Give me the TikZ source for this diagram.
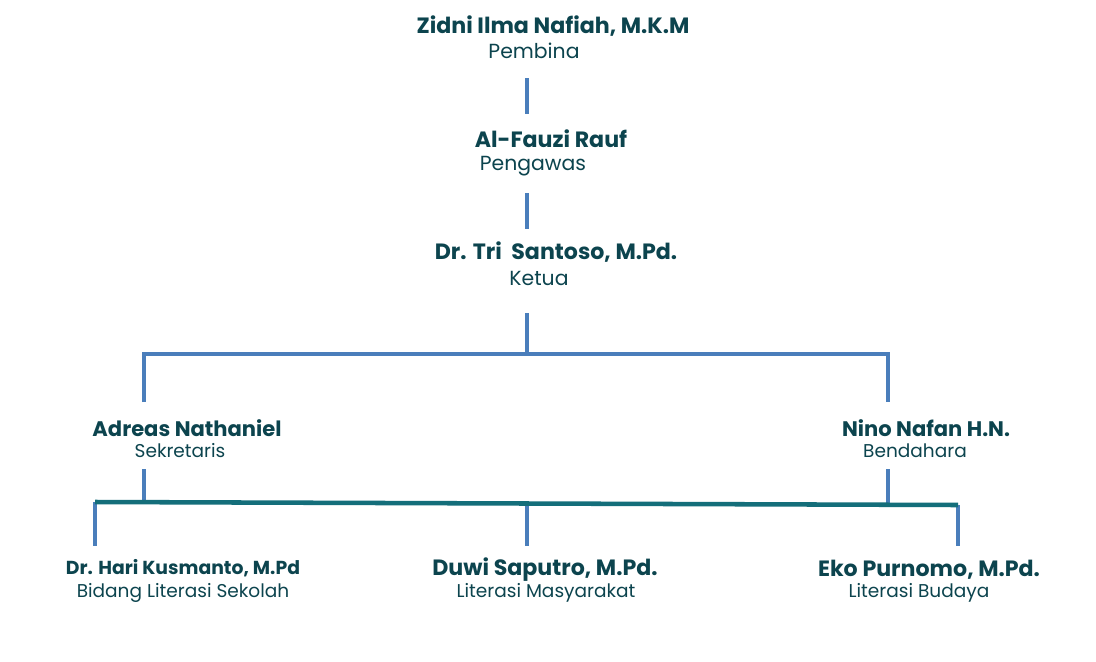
\documentclass[tikz,border=0pt]{standalone}
\usepackage{fontspec}
\setmainfont{Poppins}
\usepackage{tikz}
\usetikzlibrary{positioning,calc}
\definecolor{inkteal}{RGB}{12,68,78}
\definecolor{linkblue}{RGB}{74,126,187}
\definecolor{barteal}{RGB}{20,110,122}

\begin{document}
\begin{tikzpicture}[x=0.75pt, y=-0.75pt,
    person/.style={text=inkteal, font=\bfseries\fontsize{16.6}{19}\selectfont, inner sep=0pt},
    role/.style={text=inkteal, font=\fontsize{15.3}{18}\selectfont, inner sep=0pt},
    link/.style={draw=linkblue, line width=2.6pt},
    bar/.style={draw=barteal, line width=3.4pt}]
    \useasboundingbox[fill=white] (0,0) rectangle (1096,661);

    % top of the chain
    \node[person] (pembina) at (553,26) {Zidni Ilma Nafiah, M.K.M};
    \node[role] (pembinarole) at (534,51) {Pembina};
    \node[person] (pengawas) at (551,139) {Al-Fauzi Rauf};
    \node[role] (pengawasrole) at (533,166) {Pengawas};
    \node[person] (ketua) at (556,252) {Dr. Tri\ \ Santoso, M.Pd.};
    \node[role] (ketuarole) at (539,278) {Ketua};

    % second level
    \node[person, font=\bfseries\fontsize{15.8}{18}\selectfont] (sekretaris) at (187,428) {Adreas Nathaniel};
    \node[role, font=\fontsize{13.9}{16}\selectfont] (sekretarisrole) at (180,451) {Sekretaris};
    \node[person, font=\bfseries\fontsize{15.8}{18}\selectfont] (bendahara) at (926,428) {Nino Nafan H.N.};
    \node[role, font=\fontsize{13.9}{16}\selectfont] (bendahararole) at (915,451) {Bendahara};

    % bottom row
    \node[person, font=\bfseries\fontsize{14.1}{17}\selectfont] (sekolah) at (183,568) {Dr. Hari Kusmanto, M.Pd};
    \node[role, font=\fontsize{13.9}{16}\selectfont] (sekolahrole) at (183,593) {Bidang Literasi Sekolah};
    \node[person] (masyarakat) at (545,570) {Duwi Saputro, M.Pd.};
    \node[role, font=\fontsize{13.9}{16}\selectfont] (masyarakatrole) at (546,593) {Literasi Masyarakat};
    \node[person] (budaya) at (929,570) {Eko Purnomo, M.Pd.};
    \node[role, font=\fontsize{13.9}{16}\selectfont] (budayarole) at (919,593) {Literasi Budaya};

    % junction points
    \coordinate (p1) at (527,78);  \coordinate (p2) at (527,114);
    \coordinate (p3) at (527,193); \coordinate (p4) at (527,229);
    \coordinate (p5) at (527,313); \coordinate (hub) at (527,354);
    \coordinate (left) at (144,354); \coordinate (right) at (888,354);
    \coordinate (leftdown) at (144,402); \coordinate (rightdown) at (888,402);
    \coordinate (leftup) at (144,469); \coordinate (rightup) at (888,469);
    \coordinate (leftfoot) at (144,503); \coordinate (rightfoot) at (888,504);
    \coordinate (barL) at (95,502); \coordinate (barR) at (958,505);
    \coordinate (barM) at (527,504);
    \coordinate (legL) at (95,546); \coordinate (legM) at (527,546); \coordinate (legR) at (958,546);

    \draw[link] (p1) -- (p2);
    \draw[link] (p3) -- (p4);
    \draw[link] (p5) -- (hub);
    \draw[link] (leftdown) -- (left) -- (right) -- (rightdown);
    \draw[link] (leftup) -- (leftfoot);
    \draw[link] (rightup) -- (rightfoot);
    \draw[link] (barL) -- (legL);
    \draw[link] (barM) -- (legM);
    \draw[link] (barR) -- (legR);
    \draw[bar] (barL) -- (barR);
\end{tikzpicture}
\end{document}
